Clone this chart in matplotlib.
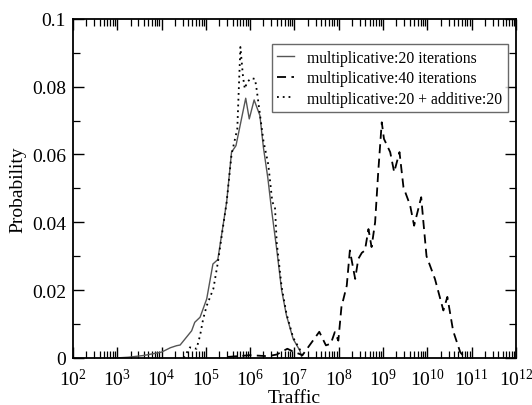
import numpy as np
import matplotlib
matplotlib.use("Agg")
import matplotlib.pyplot as plt
from matplotlib.ticker import LogLocator, LogFormatterMathtext, MultipleLocator, FuncFormatter

plt.rcParams["font.family"] = ["Liberation Serif", "DejaVu Serif"]
plt.rcParams["mathtext.fontset"] = "stix"

# log10(traffic) and probability
mult20_log = [3.0, 3.25, 3.59, 4.0, 4.2, 4.34, 4.42, 4.68, 4.75, 4.87, 5.02, 5.16,
              5.27, 5.47, 5.58, 5.68, 5.90, 5.98, 6.09, 6.22, 6.30, 6.40, 6.48,
              6.60, 6.71, 6.82, 6.97, 7.12, 7.17]
mult20_p = [0.0, 0.0002, 0.0007, 0.0017, 0.003, 0.0036, 0.0038, 0.008, 0.0105,
            0.012, 0.0174, 0.0277, 0.029, 0.046, 0.0607, 0.0626, 0.0766, 0.0705,
            0.0761, 0.0715, 0.062, 0.053, 0.044, 0.032, 0.020, 0.0125, 0.0056,
            0.0022, 0.0]

add20_log = [4.5, 4.64, 4.79, 4.87, 4.94, 5.02, 5.17, 5.27, 5.47, 5.58, 5.71,
             5.78, 5.84, 5.88, 5.93, 6.02, 6.11, 6.15, 6.30, 6.41, 6.50, 6.56,
             6.60, 6.71, 6.82, 6.97, 7.12, 7.2]
add20_p = [0.0, 0.0031, 0.0027, 0.0066, 0.0115, 0.0154, 0.0204, 0.028, 0.046,
           0.060, 0.0676, 0.0917, 0.0828, 0.0794, 0.0813, 0.0825, 0.0823, 0.0789,
           0.064, 0.057, 0.046, 0.0445, 0.034, 0.021, 0.013, 0.006, 0.0025, 0.0]

mult40_log = [5.5, 6.0, 6.4, 6.6, 6.84, 6.95, 7.18, 7.56, 7.71, 7.82, 7.91, 7.99,
              8.06, 8.18, 8.25, 8.37, 8.44, 8.52, 8.59, 8.67, 8.74, 8.82, 8.89,
              8.97, 9.02, 9.16, 9.25, 9.37, 9.46, 9.61, 9.70, 9.86, 9.91, 9.98,
              10.17, 10.36, 10.45, 10.58, 10.74, 10.85]
mult40_p = [0.0003, 0.0008, 0.0005, 0.001, 0.0027, 0.002, 0.0008, 0.0077, 0.0037,
            0.0042, 0.0076, 0.0051, 0.015, 0.0213, 0.0317, 0.0233, 0.0292, 0.031,
            0.0317, 0.038, 0.0327, 0.040, 0.0548, 0.0695, 0.0646, 0.0607, 0.0548,
            0.0607, 0.0503, 0.045, 0.039, 0.0474, 0.040, 0.030, 0.0233, 0.014,
            0.018, 0.008, 0.0017, 0.0]

labels = ["multiplicative:20 iterations",
          "multiplicative:40 iterations",
          "multiplicative:20 + additive:20"]

fig = plt.figure(figsize=(5.32, 4.06), dpi=100)
ax = fig.add_axes([0.137, 0.116, 0.833, 0.835])

ax.plot(10 ** np.array(mult20_log), mult20_p, color="#555555", lw=1.0, label=labels[0])
ax.plot(10 ** np.array(mult40_log), mult40_p, color="black", lw=1.3,
        dashes=(5, 3), label=labels[1])
ax.plot(10 ** np.array(add20_log), add20_p, color="black", lw=1.3,
        dashes=(1, 2.2), label=labels[2])

ax.set_xscale("log")
ax.set_xlim(1e2, 1e12)
ax.set_ylim(0, 0.1)
ax.xaxis.set_major_locator(LogLocator(base=10, numticks=20))
ax.xaxis.set_minor_locator(LogLocator(base=10, subs=np.arange(2, 10), numticks=20))
ax.xaxis.set_major_formatter(LogFormatterMathtext())
ax.yaxis.set_major_locator(MultipleLocator(0.02))
ax.yaxis.set_minor_locator(MultipleLocator(0.01))
ax.yaxis.set_major_formatter(FuncFormatter(lambda v, p: "0" if abs(v) < 1e-9 else ("%g" % v)))

ax.tick_params(which="both", direction="in", top=True, right=True, labelsize=14)
ax.tick_params(which="major", length=8, width=1.0)
ax.tick_params(which="minor", length=5, width=0.9)
ax.tick_params(axis="x", which="major", pad=7)
ax.tick_params(axis="y", which="major", pad=5)
for s in ax.spines.values():
    s.set_linewidth(1.3)

ax.set_xlabel("Traffic", fontsize=14, labelpad=0)
ax.set_ylabel("Probability", fontsize=14, labelpad=4)

leg = ax.legend(loc="upper right", bbox_to_anchor=(0.988, 0.935), fontsize=11.3,
                frameon=True, fancybox=False, edgecolor="#444444",
                handlelength=1.1, handletextpad=0.8, borderpad=0.35,
                labelspacing=0.3, borderaxespad=0.2)
leg.get_frame().set_linewidth(1.0)

fig.savefig("out.png", dpi=100)
